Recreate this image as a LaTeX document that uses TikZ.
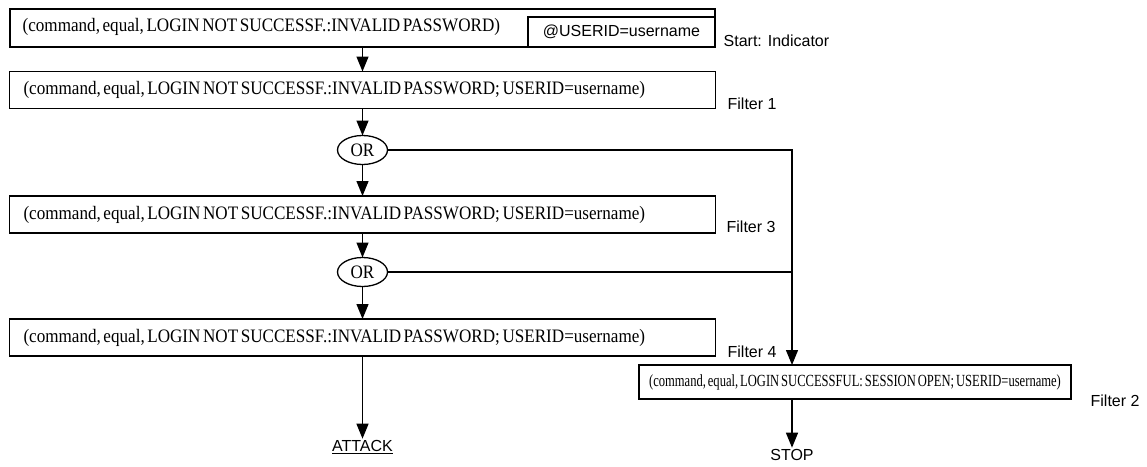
\documentclass[tikz,border=0pt]{standalone}
\usepackage{fontspec}
\setmainfont[FakeStretch=0.9,WordSpace=0.6]{Liberation Serif}
\newfontfamily\narrowserif[FakeStretch=0.74,WordSpace=0.6]{Liberation Serif}
\setsansfont{Liberation Sans}
\usetikzlibrary{arrows.meta,shapes.geometric}

\begin{document}
\begin{tikzpicture}[x=1pt,y=-1pt,line width=1.3pt,
		box/.style={draw,outer sep=0,inner xsep=14,inner ysep=0,text width=678,minimum height=37,align=flush left,font=\fontsize{19}{21}\selectfont},
		gate/.style={draw,ellipse,outer sep=0,inner sep=0,minimum width=50,minimum height=29,font=\fontsize{19}{21}\selectfont},
		tag/.style={inner sep=0,anchor=west,font=\sffamily\fontsize{16}{18}\selectfont},
		flow/.style={-{Triangle[length=15,width=12]}}]
		\useasboundingbox (0,0) rectangle (1147,466);
		% start indicator
		\node [draw,outer sep=0,inner sep=0,minimum width=705,minimum height=38] (n1) at (362.5,28) {};
		\node [anchor=west,inner sep=0,font=\fontsize{19}{21}\selectfont] (n1t) at (22,27) {(command, equal, LOGIN NOT SUCCESSF.:INVALID PASSWORD)};
		\node [draw,outer sep=0,inner sep=0,minimum width=187,minimum height=30,font=\sffamily\fontsize{16}{18}\selectfont] (uid) at (621.5,32) {@USERID=username};
		\node [tag] (l0) at (723,41) {Start: Indicator};
		% filters
		\node [box] (f1) at (362.5,90) {(command, equal, LOGIN NOT SUCCESSF.:INVALID PASSWORD; USERID=username)};
		\node [tag] (l1) at (727,104) {Filter 1};
		\node [gate] (or1) at (362.5,150) {OR};
		\node [box] (f3) at (362.5,214.5) {(command, equal, LOGIN NOT SUCCESSF.:INVALID PASSWORD; USERID=username)};
		\node [tag] (l3) at (726,227) {Filter 3};
		\node [gate] (or2) at (362.5,272) {OR};
		\node [box] (f4) at (362.5,337.5) {(command, equal, LOGIN NOT SUCCESSF.:INVALID PASSWORD; USERID=username)};
		\node [tag] (l4) at (727,352) {Filter 4};
		\node [inner sep=1,font=\sffamily\fontsize{16}{18}\selectfont] (attack) at (362.5,447) {\underline{ATTACK}};
		\node [draw,outer sep=0,inner sep=0,minimum width=432,minimum height=34,font=\narrowserif\fontsize{17}{19}\selectfont] (f2) at (855,382) {(command, equal, LOGIN SUCCESSFUL: SESSION OPEN; USERID=username)};
		\node [tag] (l2) at (1090,401) {Filter 2};
		\node [inner sep=1,font=\sffamily\fontsize{16}{18}\selectfont] (stop) at (792,455) {STOP};
		% connectors
		\draw [flow] (n1) -- (f1);
		\draw [flow] (f1) -- (or1);
		\draw [flow] (or1) -- (f3);
		\draw [flow] (f3) -- (or2);
		\draw [flow] (or2) -- (f4);
		\draw [flow] (f4) -- (attack);
		\draw [flow] (or1) -- (or1 -| stop) -- (f2.north -| stop);
		\draw (or2) -- (or2 -| stop);
		\draw [flow] (f2.south -| stop) -- (stop);
\end{tikzpicture}
\end{document}
